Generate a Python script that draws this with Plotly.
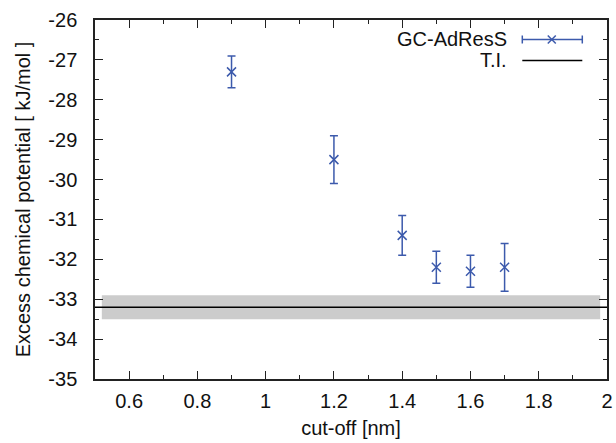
import plotly.graph_objects as go

# ---- data ----
cutoff = [0.9, 1.2, 1.4, 1.5, 1.6, 1.7]
mu_gc = [-27.3, -29.5, -31.4, -32.2, -32.3, -32.2]
mu_err = [0.4, 0.6, 0.5, 0.4, 0.4, 0.6]

ti_value = -33.2
ti_err = 0.3
ti_band_x = [0.52, 1.98]
ti_line_x = [0.5, 2.0]

x_tickvals = [0.6, 0.8, 1.0, 1.2, 1.4, 1.6, 1.8, 2.0]
x_ticktext = ["0.6", "0.8", "1", "1.2", "1.4", "1.6", "1.8", "2"]
y_tickvals = [-35, -34, -33, -32, -31, -30, -29, -28, -27, -26]
y_ticktext = ["-35", "-34", "-33", "-32", "-31", "-30", "-29", "-28", "-27", "-26"]

BLUE = "rgb(60,90,172)"
FONT = "Liberation Sans, Arial, Helvetica, sans-serif"
FS = 20

fig = go.Figure()

# T.I. uncertainty band
fig.add_trace(go.Scatter(
    x=[ti_band_x[0], ti_band_x[1], ti_band_x[1], ti_band_x[0], ti_band_x[0]],
    y=[ti_value + ti_err, ti_value + ti_err, ti_value - ti_err, ti_value - ti_err, ti_value + ti_err],
    fill="toself", fillcolor="rgb(204,204,204)", line=dict(width=0),
    mode="lines", hoverinfo="skip", showlegend=False))

# T.I. line
fig.add_trace(go.Scatter(
    x=ti_line_x, y=[ti_value, ti_value], mode="lines",
    line=dict(color="black", width=1.6), showlegend=False))

# GC-AdResS points
fig.add_trace(go.Scatter(
    x=cutoff, y=mu_gc, mode="markers",
    marker=dict(symbol="x-thin", size=9, line=dict(color=BLUE, width=1.5), color=BLUE),
    error_y=dict(type="data", array=mu_err, visible=True, color=BLUE, thickness=1.5, width=4),
    showlegend=False))

axis_common = dict(
    showline=True, linecolor="#222", linewidth=1.5, mirror="allticks",
    ticks="inside", ticklen=8, tickwidth=1.2, tickcolor="#222",
    showgrid=False, zeroline=False, automargin=False,
    tickfont=dict(family=FONT, size=FS, color="#111"),
)

fig.update_xaxes(
    range=[0.5, 2.0], tickvals=x_tickvals, ticktext=x_ticktext,
    minor=dict(ticks="inside", ticklen=4, dtick=0.1, tick0=0.5, tickcolor="#222", tickwidth=1.2),
    title=dict(text="cut-off [nm]", font=dict(family=FONT, size=FS, color="#111"), standoff=10),
    ticklabelstandoff=3,
    **axis_common)
fig.update_yaxes(
    range=[-35, -26], tickvals=y_tickvals, ticktext=y_ticktext,
    minor=dict(ticks="inside", ticklen=4, dtick=0.5, tick0=-35, tickcolor="#222", tickwidth=1.2),
    title=dict(text="Excess chemical potential [ kJ/mol ]", font=dict(family=FONT, size=FS, color="#111"), standoff=12),
    ticklabelstandoff=12,
    **axis_common)

# gnuplot-style legend (text left, sample right) in paper coordinates
L, R, T, B = 94.7, 606.7, 20.0, 379.0
def px(xp):
    return (xp - L) / (R - L)
def py(yp):
    return (B - yp) / (B - T)

row1, row2 = py(39.5), py(60.5)
s0, s1, sm = px(522), px(582), px(551.5)
txt_right = px(509)

shapes = []
# GC-AdResS sample: horizontal bar with caps and x marker
shapes.append(dict(type="line", xref="paper", yref="paper", x0=s0, x1=s1, y0=row1, y1=row1,
                   line=dict(color=BLUE, width=1.5)))
for xc in (s0, s1):
    shapes.append(dict(type="line", xref="paper", yref="paper", xsizemode="pixel", ysizemode="pixel",
                       xanchor=xc, yanchor=row1, x0=0, x1=0, y0=-4, y1=4,
                       line=dict(color=BLUE, width=1.5)))
for sgn in (1, -1):
    shapes.append(dict(type="line", xref="paper", yref="paper", xsizemode="pixel", ysizemode="pixel",
                       xanchor=sm, yanchor=row1, x0=-4, x1=4, y0=-4 * sgn, y1=4 * sgn,
                       line=dict(color=BLUE, width=1.5)))
# T.I. sample
shapes.append(dict(type="line", xref="paper", yref="paper", x0=s0, x1=s1, y0=row2, y1=row2,
                   line=dict(color="black", width=1.6)))

annotations = [
    dict(text="GC-AdResS", xref="paper", yref="paper", x=txt_right, y=row1, xanchor="right",
         yanchor="middle", showarrow=False, font=dict(family=FONT, size=FS, color="#111")),
    dict(text="T.I.", xref="paper", yref="paper", x=txt_right, y=row2, xanchor="right",
         yanchor="middle", showarrow=False, font=dict(family=FONT, size=FS, color="#111")),
]

fig.update_layout(
    width=616, height=443,
    margin=dict(l=L, r=616 - R, t=T, b=443 - B, pad=0),
    paper_bgcolor="white", plot_bgcolor="white",
    shapes=shapes, annotations=annotations,
    showlegend=False,
)

fig.write_html(
    "out.html",
    config={"displayModeBar": False},
    post_script="document.body.style.margin='0';document.body.style.overflow='hidden';",
)
